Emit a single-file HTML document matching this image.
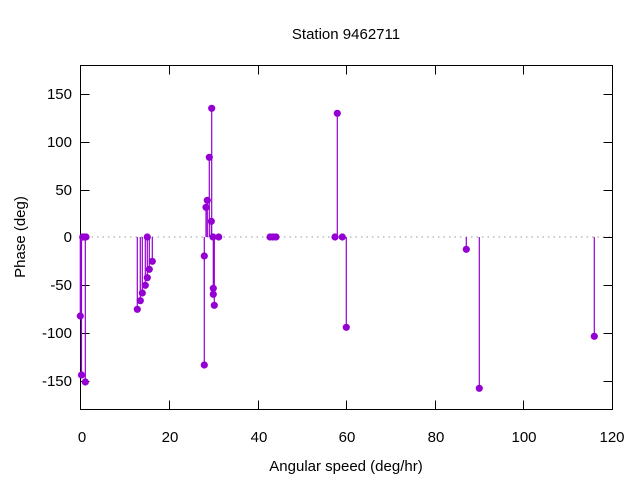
<!DOCTYPE html>
<html><head><meta charset="utf-8"><style>body{margin:0;background:#fff}svg{display:block}text{font-family:"Liberation Sans","DejaVu Sans",sans-serif;font-size:15px;fill:#000}</style></head><body>
<svg width="640" height="480" viewBox="0 0 640 480">
<text x="346" y="39" text-anchor="middle">Station 9462711</text>
<line x1="80.5" y1="237" x2="612.5" y2="237" stroke="#999" stroke-dasharray="1.5,4" stroke-width="1"/>
<g stroke="#000" stroke-width="1">
<rect x="80.5" y="65.5" width="532" height="344" fill="none"/>
<path d="M80.5 94.5h9M612.5 94.5h-9M80.5 142.5h9M612.5 142.5h-9M80.5 190.5h9M612.5 190.5h-9M80.5 237.5h9M612.5 237.5h-9M80.5 285.5h9M612.5 285.5h-9M80.5 333.5h9M612.5 333.5h-9M80.5 381.5h9M612.5 381.5h-9"/>
<path d="M169.5 409.5v-9M169.5 65.5v9M258.5 409.5v-9M258.5 65.5v9M346.5 409.5v-9M346.5 65.5v9M435.5 409.5v-9M435.5 65.5v9M523.5 409.5v-9M523.5 65.5v9"/>
</g>
<g text-anchor="end">
<text x="72" y="99">150</text><text x="72" y="147">100</text><text x="72" y="195">50</text><text x="72" y="242">0</text><text x="72" y="290">-50</text><text x="72" y="338">-100</text><text x="72" y="386">-150</text>
</g>
<g text-anchor="middle">
<text x="82" y="442">0</text><text x="170" y="442">20</text><text x="259" y="442">40</text><text x="347" y="442">60</text><text x="436" y="442">80</text><text x="524" y="442">100</text><text x="612" y="442">120</text>
<text x="346" y="471">Angular speed (deg/hr)</text>
<text transform="translate(25 237) rotate(-90)">Phase (deg)</text>
</g>
<g stroke="#9400d3" stroke-width="1.2">
<path d="M80.3 237V316M81.5 237V375M85.3 237V382M137.3 237V309.3M140.3 237V300.7M142.3 237V293M145.3 237V285.3M147.3 237V277.7M149.3 237V269.3M152.3 237V261.3M204.3 237V256M204.3 237V365M206 237V207.3M207.3 237V200.3M209.3 237V157.3M211.3 237V221.3M211.7 237V108.3M213.3 237V288.3M213.3 237V294.3M214.3 237V305.3M337.3 237V113.3M346.3 237V327.3M466.3 237V249.3M479.3 237V388.3M594.3 237V336.3"/>
</g>
<g fill="#9400d3">
<circle cx="80.3" cy="316" r="3.6"/><circle cx="81.5" cy="375" r="3.6"/><circle cx="82.7" cy="237" r="3.6"/><circle cx="84" cy="237" r="3.6"/><circle cx="86" cy="237" r="3.6"/><circle cx="85.3" cy="382" r="3.6"/>
<circle cx="137.3" cy="309.3" r="3.6"/><circle cx="140.3" cy="300.7" r="3.6"/><circle cx="142.3" cy="293" r="3.6"/><circle cx="145.3" cy="285.3" r="3.6"/><circle cx="147.3" cy="277.7" r="3.6"/><circle cx="147.3" cy="237" r="3.6"/><circle cx="149.3" cy="269.3" r="3.6"/><circle cx="152.3" cy="261.3" r="3.6"/>
<circle cx="204.3" cy="256" r="3.6"/><circle cx="204.3" cy="365" r="3.6"/><circle cx="206" cy="207.3" r="3.6"/><circle cx="207.3" cy="200.3" r="3.6"/><circle cx="209.3" cy="157.3" r="3.6"/><circle cx="211.3" cy="221.3" r="3.6"/><circle cx="211.7" cy="108.3" r="3.6"/><circle cx="213" cy="237" r="3.6"/><circle cx="213.3" cy="288.3" r="3.6"/><circle cx="213.3" cy="294.3" r="3.6"/><circle cx="214.3" cy="305.3" r="3.6"/><circle cx="218.7" cy="237" r="3.6"/>
<circle cx="270" cy="237" r="3.6"/><circle cx="273" cy="237" r="3.6"/><circle cx="276" cy="237" r="3.6"/><circle cx="335" cy="237" r="3.6"/><circle cx="337.3" cy="113.3" r="3.6"/><circle cx="342.3" cy="237" r="3.6"/><circle cx="346.3" cy="327.3" r="3.6"/><circle cx="466.3" cy="249.3" r="3.6"/><circle cx="479.3" cy="388.3" r="3.6"/><circle cx="594.3" cy="336.3" r="3.6"/>
</g>
</svg>
</body></html>
